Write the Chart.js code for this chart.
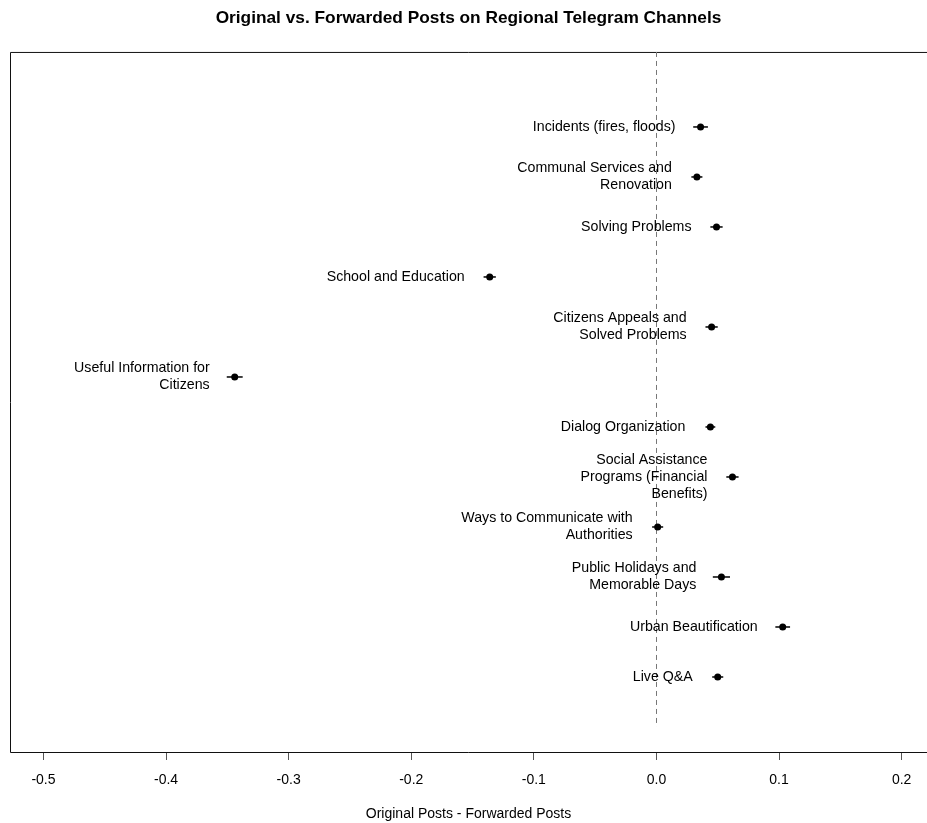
<!DOCTYPE html>
<html>
<head>
<meta charset="utf-8">
<script src="https://cdn.jsdelivr.net/npm/chart.js@4.4.1/dist/chart.umd.min.js"></script>
<style>
  html, body { margin: 0; padding: 0; background: #fff; }
  #wrap { width: 927px; height: 823px; }
</style>
</head>
<body>
<div id="wrap"><canvas id="dot_chart" width="927" height="823"></canvas></div>
<script>
const categories = [
    ['Incidents (fires, floods)'],
    ['Communal Services and', 'Renovation'],
    ['Solving Problems'],
    ['School and Education'],
    ['Citizens Appeals and', 'Solved Problems'],
    ['Useful Information for', 'Citizens'],
    ['Dialog Organization'],
    ['Social Assistance', 'Programs (Financial', 'Benefits)'],
    ['Ways to Communicate with', 'Authorities'],
    ['Public Holidays and', 'Memorable Days'],
    ['Urban Beautification'],
    ['Live Q&A'],
]
const estimates = [0.036, 0.033, 0.049, -0.136, 0.045, -0.344, 0.044, 0.062, 0.001, 0.053, 0.103, 0.050]
const lower = [0.030, 0.0285, 0.044, -0.141, 0.040, -0.3505, 0.040, 0.057, -0.0035, 0.046, 0.097, 0.0455]
const upper = [0.042, 0.0375, 0.054, -0.131, 0.050, -0.3375, 0.048, 0.067, 0.0055, 0.060, 0.109, 0.0545]
const xTicks = [-0.5, -0.4, -0.3, -0.2, -0.1, 0.0, 0.1, 0.2]

const FONT = 'Liberation Sans, Arial, sans-serif'

// box round the plot (no right side, it runs off the picture)
const frame = {
    id: 'frame',
    beforeDatasetsDraw(chart) {
        const { ctx, chartArea: a } = chart
        ctx.save()
        ctx.strokeStyle = '#111'
        ctx.lineWidth = 1
        ctx.beginPath()
        ctx.moveTo(chart.width, a.top + 0.5)
        ctx.lineTo(a.left + 0.5, a.top + 0.5)
        ctx.lineTo(a.left + 0.5, a.bottom + 0.5)
        ctx.lineTo(chart.width, a.bottom + 0.5)
        ctx.stroke()
        // dashed zero line
        const x0 = Math.round(chart.scales.x.getPixelForValue(0)) + 0.5
        ctx.strokeStyle = '#777'
        ctx.setLineDash([5, 4])
        ctx.beginPath()
        ctx.moveTo(x0, a.top)
        ctx.lineTo(x0, chart.scales.y.getPixelForValue(categories.length))
        ctx.stroke()
        ctx.restore()
    }
}

// error bars and text labels next to each dot
const errorsAndLabels = {
    id: 'errorsAndLabels',
    afterDatasetsDraw(chart) {
        const { ctx } = chart
        const xs = chart.scales.x, ys = chart.scales.y
        ctx.save()
        ctx.strokeStyle = '#000'
        ctx.lineWidth = 1.5
        estimates.forEach((v, i) => {
            const y = ys.getPixelForValue(i)
            ctx.beginPath()
            ctx.moveTo(xs.getPixelForValue(lower[i]), y)
            ctx.lineTo(xs.getPixelForValue(upper[i]), y)
            ctx.stroke()
        })
        ctx.fillStyle = '#000'
        ctx.font = '14.2px ' + FONT
        ctx.textAlign = 'right'
        ctx.textBaseline = 'middle'
        const lh = 17
        categories.forEach((lines, i) => {
            const x = xs.getPixelForValue(estimates[i]) - 25
            const y0 = ys.getPixelForValue(i) - (lines.length - 1) * lh / 2
            lines.forEach((t, k) => ctx.fillText(t, x, y0 + k * lh))
        })
        ctx.restore()
    }
}

new Chart(document.getElementById('dot_chart'), {
    type: 'scatter',
    data: {
        datasets: [
            {
                data: estimates.map((v, i) => ({ x: v, y: i })),
                backgroundColor: '#000',
                borderColor: '#000',
                borderWidth: 0,
                pointRadius: 3.5,
                pointHoverRadius: 3.5,
            },
        ],
    },
    options: {
        responsive: false,
        animation: false,
        events: [],
        layout: { autoPadding: false, padding: { left: 10, right: 0, top: 0, bottom: 0 } },
        plugins: {
            legend: { display: false },
            tooltip: { enabled: false },
            title: {
                display: true,
                text: 'Original vs. Forwarded Posts on Regional Telegram Channels',
                color: '#000',
                font: { family: FONT, size: 17.3, weight: 'bold' },
                padding: { top: 8, bottom: 23.2 },
            },
        },
        scales: {
            x: {
                type: 'linear',
                min: -0.5273,
                max: 0.2207,
                afterBuildTicks: (scale) => { scale.ticks = xTicks.map(v => ({ value: v })) },
                afterFit: (scale) => {
                    scale.height = 71
                    scale.paddingLeft = 0
                    scale.paddingRight = 0
                },
                grid: { drawOnChartArea: false, drawTicks: true, tickLength: 8, color: '#555' },
                border: { display: false },
                ticks: {
                    color: '#000',
                    padding: 12,
                    font: { family: FONT, size: 14 },
                    callback: (v) => v.toFixed(1),
                },
                title: {
                    display: true,
                    text: 'Original Posts - Forwarded Posts',
                    color: '#000',
                    font: { family: FONT, size: 14 },
                    padding: { top: 0, bottom: 0 },
                },
            },
            y: {
                type: 'linear',
                display: false,
                reverse: true,
                min: -1.5,
                max: 12.5,
            },
        },
    },
    plugins: [frame, errorsAndLabels],
})
</script>
</body>
</html>
